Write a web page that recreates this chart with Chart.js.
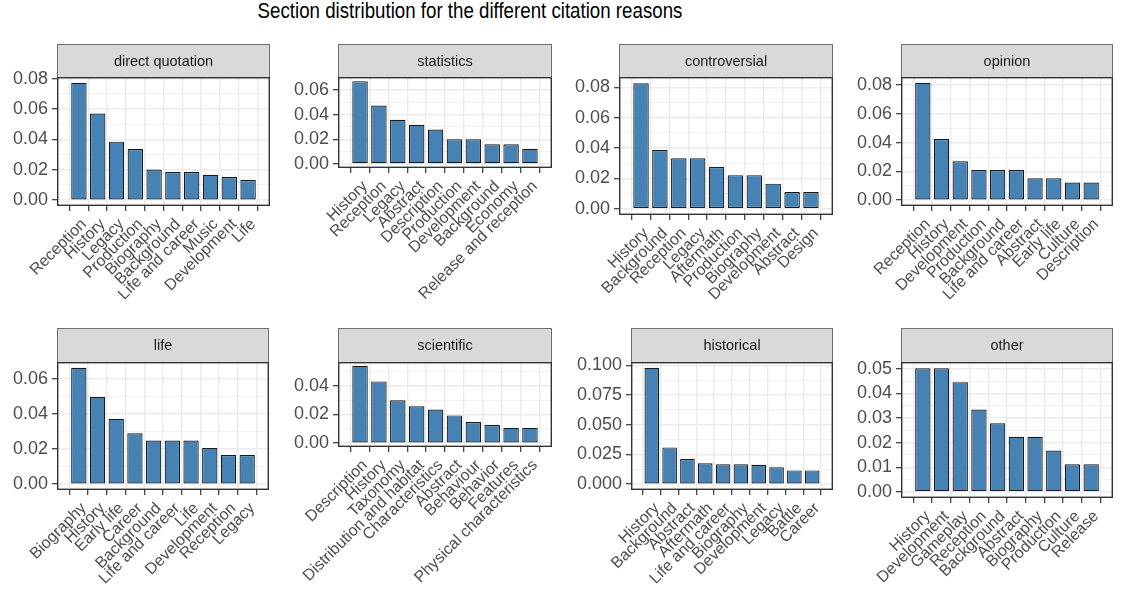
<!DOCTYPE html>
<html>
<head>
<meta charset="utf-8">
<script src="https://cdn.jsdelivr.net/npm/chart.js@4.4.1/dist/chart.umd.min.js"></script>
<style>
  html, body { margin: 0; padding: 0; background: #fff; }
  #page { position: relative; width: 1125px; height: 600px; overflow: hidden; font-family: "Liberation Sans", Arial, sans-serif; }
  #title { position: absolute; left: 0; width: 940px; top: 0; text-align: center; font-size: 22px; line-height: 22px; color: #000; transform: scaleX(0.85); transform-origin: 470px 0; }
  canvas { position: absolute; }
</style>
</head>
<body>
<div id="page">
  <div id="title">Section distribution for the different citation reasons</div>
</div>
<script>
// data
const catsDirect = ['Reception', 'History', 'Legacy', 'Production', 'Biography', 'Background', 'Life and career', 'Music', 'Development', 'Life'];
const valsDirect = [0.0772, 0.0570, 0.0385, 0.0337, 0.0202, 0.0185, 0.0185, 0.0167, 0.0152, 0.0133];
const ticksDirect = ['0.00', '0.02', '0.04', '0.06', '0.08'];

const catsStats = ['History', 'Reception', 'Legacy', 'Abstract', 'Description', 'Production', 'Development', 'Background', 'Economy', 'Release and reception'];
const valsStats = [0.0673, 0.0475, 0.0358, 0.0318, 0.0280, 0.0201, 0.0201, 0.0160, 0.0160, 0.0122];
const ticksStats = ['0.00', '0.02', '0.04', '0.06'];

const catsControversial = ['History', 'Background', 'Reception', 'Legacy', 'Aftermath', 'Production', 'Biography', 'Development', 'Abstract', 'Design'];
const valsControversial = [0.0826, 0.0386, 0.0332, 0.0332, 0.0275, 0.0221, 0.0221, 0.0165, 0.0110, 0.0110];
const ticksControversial = ['0.00', '0.02', '0.04', '0.06', '0.08'];

const catsOpinion = ['Reception', 'History', 'Development', 'Production', 'Background', 'Life and career', 'Abstract', 'Early life', 'Culture', 'Description'];
const valsOpinion = [0.0816, 0.0425, 0.0271, 0.0209, 0.0209, 0.0209, 0.0152, 0.0152, 0.0122, 0.0122];
const ticksOpinion = ['0.00', '0.02', '0.04', '0.06', '0.08'];

const catsLife = ['Biography', 'History', 'Early life', 'Career', 'Background', 'Life and career', 'Life', 'Development', 'Reception', 'Legacy'];
const valsLife = [0.0664, 0.0498, 0.0373, 0.0290, 0.0249, 0.0249, 0.0249, 0.0207, 0.0166, 0.0166];
const ticksLife = ['0.00', '0.02', '0.04', '0.06'];

const catsScientific = ['Description', 'History', 'Taxonomy', 'Distribution and habitat', 'Characteristics', 'Abstract', 'Behaviour', 'Behavior', 'Features', 'Physical characteristics'];
const valsScientific = [0.0538, 0.0430, 0.0299, 0.0257, 0.0234, 0.0193, 0.0147, 0.0126, 0.0106, 0.0106];
const ticksScientific = ['0.00', '0.02', '0.04'];

const catsHistorical = ['History', 'Background', 'Abstract', 'Aftermath', 'Life and career', 'Biography', 'Development', 'Legacy', 'Battle', 'Career'];
const valsHistorical = [0.0978, 0.0309, 0.0212, 0.0176, 0.0168, 0.0168, 0.0163, 0.0143, 0.0116, 0.0116];
const ticksHistorical = ['0.000', '0.025', '0.050', '0.075', '0.100'];

const catsOther = ['History', 'Development', 'Gameplay', 'Reception', 'Background', 'Abstract', 'Biography', 'Production', 'Culture', 'Release'];
const valsOther = [0.0503, 0.0503, 0.0446, 0.0335, 0.0279, 0.0224, 0.0224, 0.0168, 0.0112, 0.0112];
const ticksOther = ['0.00', '0.01', '0.02', '0.03', '0.04', '0.05'];

// layout: plot left/right, strip top, strip height, plot bottom, y-axis width, canvas bottom
const panels = [
  { name: 'direct quotation', cats: catsDirect, vals: valsDirect, ticks: ticksDirect, left: 57, right: 270, top: 44, strip: 33, bottom: 206, yw: 57, cb: 325 },
  { name: 'statistics', cats: catsStats, vals: valsStats, ticks: ticksStats, left: 338, right: 552, top: 44, strip: 33, bottom: 168, yw: 60, cb: 325 },
  { name: 'controversial', cats: catsControversial, vals: valsControversial, ticks: ticksControversial, left: 619, right: 833, top: 44, strip: 33, bottom: 215, yw: 60, cb: 325 },
  { name: 'opinion', cats: catsOpinion, vals: valsOpinion, ticks: ticksOpinion, left: 901, right: 1113, top: 44, strip: 33, bottom: 206, yw: 60, cb: 325 },
  { name: 'life', cats: catsLife, vals: valsLife, ticks: ticksLife, left: 57, right: 269, top: 328, strip: 34, bottom: 490, yw: 57, cb: 600 },
  { name: 'scientific', cats: catsScientific, vals: valsScientific, ticks: ticksScientific, left: 338, right: 552, top: 328, strip: 34, bottom: 447, yw: 60, cb: 600 },
  { name: 'historical', cats: catsHistorical, vals: valsHistorical, ticks: ticksHistorical, left: 631, right: 833, top: 328, strip: 34, bottom: 490, yw: 68, cb: 600 },
  { name: 'other', cats: catsOther, vals: valsOther, ticks: ticksOther, left: 901, right: 1113, top: 328, strip: 34, bottom: 498, yw: 60, cb: 600 }
];

const FONT = '"Liberation Sans", Arial, sans-serif';

// strip on top of the plot and the dark panel border
const stripPlugin = {
  id: 'strip',
  afterDraw(chart, args, opts) {
    const { ctx, chartArea: a } = chart;
    ctx.save();
    const h = opts.height;
    const L = Math.round(a.left), T = Math.round(a.top), W = Math.round(a.right - a.left), H = Math.round(a.bottom - a.top);
    ctx.fillStyle = '#d9d9d9';
    ctx.fillRect(L, T - h, W, h);
    ctx.strokeStyle = '#6e6e6e';
    ctx.lineWidth = 1;
    ctx.strokeRect(L + 0.5, T - h + 0.5, W - 1, h);
    ctx.fillStyle = '#1a1a1a';
    ctx.font = '14.5px ' + FONT;
    ctx.textAlign = 'center';
    ctx.textBaseline = 'middle';
    ctx.fillText(opts.text, L + W / 2, T - h / 2 + 1);
    ctx.strokeStyle = '#333333';
    ctx.lineWidth = 1.4;
    ctx.strokeRect(L + 0.7, T + 0.7, W - 1.4, H - 1.4);
    ctx.restore();
  }
};

const page = document.getElementById('page');

panels.forEach(p => {
  const canvas = document.createElement('canvas');
  const w = p.yw + (p.right - p.left) + 4;
  const h = p.cb - p.top;
  canvas.width = w;
  canvas.height = h;
  canvas.style.left = (p.left - p.yw) + 'px';
  canvas.style.top = p.top + 'px';
  page.appendChild(canvas);

  const maxV = Math.max(...p.vals);
  const yMin = -0.05 * maxV, yMax = 1.05 * maxV;
  const major = p.ticks.map(t => parseFloat(t));
  const step = major[1] - major[0];
  const yTicks = [];
  major.forEach((v, i) => {
    yTicks.push({ value: v, label: p.ticks[i] });
    yTicks.push({ value: v + step / 2, label: '', minor: true });
  });
  const yTicksIn = yTicks.filter(t => t.value >= yMin && t.value <= yMax).sort((a, b) => a.value - b.value);

  new Chart(canvas, {
    type: 'bar',
    data: {
      datasets: [{
        data: p.vals.map((v, i) => ({ x: i, y: v })),
        backgroundColor: '#4682b4',
        borderColor: '#1a1a1a',
        borderWidth: 1.2,
        borderSkipped: false,
        categoryPercentage: 1,
        barPercentage: 0.82
      }]
    },
    options: {
      responsive: false,
      animation: false,
      devicePixelRatio: 1,
      layout: { padding: { top: p.strip, right: 4, left: 0, bottom: 0 } },
      plugins: {
        legend: { display: false },
        tooltip: { enabled: false },
        strip: { text: p.name, height: p.strip }
      },
      scales: {
        x: {
          type: 'linear',
          min: -0.6,
          max: p.cats.length - 0.4,
          afterBuildTicks: axis => { axis.ticks = p.cats.map((c, i) => ({ value: i })); },
          afterFit: axis => {
            axis.height = p.cb - p.bottom;
            axis.paddingLeft = 0; axis.paddingRight = 0;
          },
          ticks: {
            autoSkip: false,
            minRotation: 45,
            maxRotation: 45,
            padding: 4,
            labelOffset: 5,
            color: '#4d4d4d',
            font: { family: FONT, size: 16 },
            callback: (v, i) => p.cats[i]
          },
          grid: { color: '#ebebeb', lineWidth: 1.4, tickLength: 5, tickColor: '#333333', tickWidth: 1.2 },
          border: { display: false }
        },
        y: {
          min: yMin,
          max: yMax,
          afterBuildTicks: axis => { axis.ticks = yTicksIn.map(t => ({ value: t.value, lab: t.label, minor: !!t.minor })); },
          afterFit: axis => {
            axis.width = p.yw;
            axis.paddingTop = 0; axis.paddingBottom = 0;
          },
          ticks: {
            autoSkip: false,
            padding: 4,
            color: '#4d4d4d',
            font: { family: FONT, size: 18 },
            callback: (v, i, ts) => ts[i].lab
          },
          grid: {
            color: '#ebebeb',
            lineWidth: c => (c.tick && c.tick.minor ? 0.7 : 1.4),
            tickLength: 5,
            tickWidth: 1.2,
            tickColor: c => (c.tick && c.tick.minor ? 'rgba(0,0,0,0)' : '#333333')
          },
          border: { display: false }
        }
      }
    },
    plugins: [stripPlugin]
  });
});
</script>
</body>
</html>
